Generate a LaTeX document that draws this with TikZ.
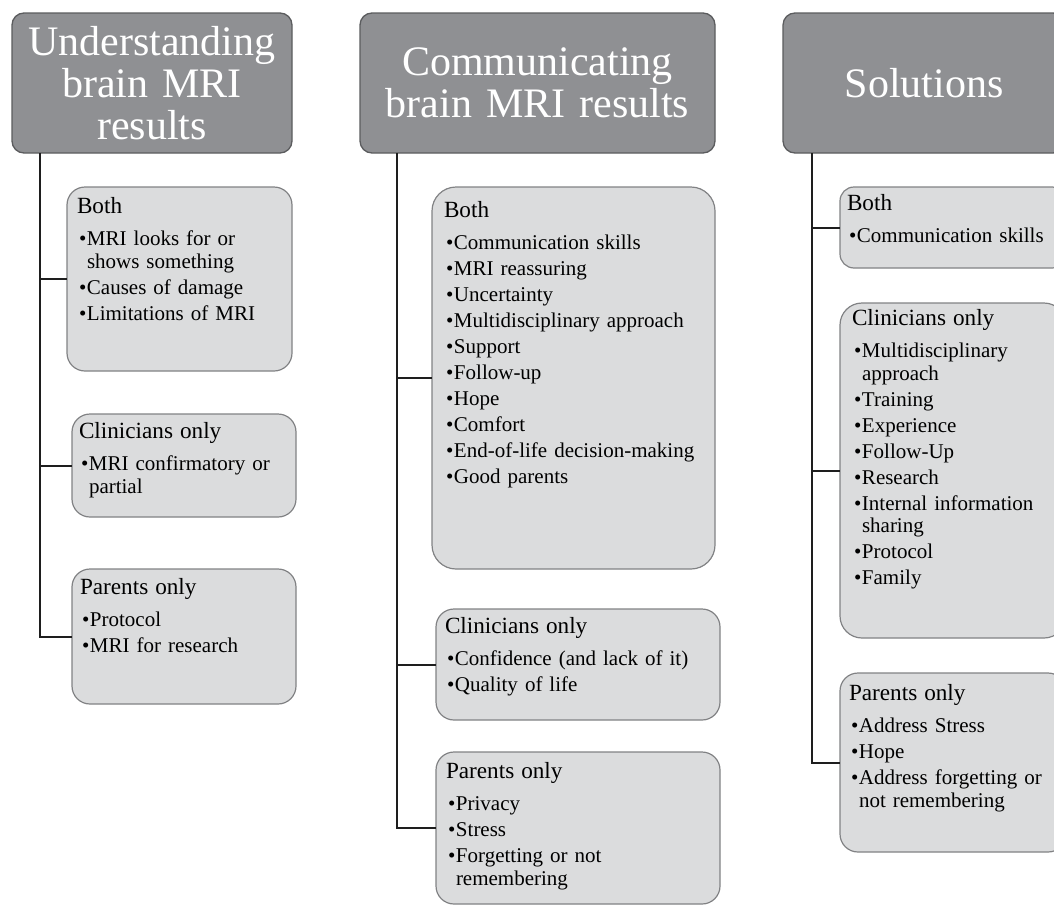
\documentclass[tikz,border=0pt]{standalone}
\usepackage{fontspec}
\setmainfont{Liberation Serif}
\usetikzlibrary{calc}
\definecolor{hdrfill}{HTML}{8F9093}
\definecolor{hdrline}{HTML}{5B5C5E}
\definecolor{boxfill}{HTML}{DBDCDD}
\definecolor{boxline}{HTML}{818284}
\definecolor{conn}{HTML}{1E1E1E}
\tikzset{
  hdr/.style={draw=hdrline, fill=hdrfill, line width=1.3pt, rounded corners=12pt,
    anchor=north west, inner sep=0pt, outer sep=0pt, text=white,
    font=\fontsize{42}{42}\selectfont, align=center},
  cat/.style={draw=boxline, fill=boxfill, line width=1.2pt, rounded corners=18pt,
    anchor=north west, inner sep=0pt, outer sep=0pt},
  boxtext/.style={anchor=base west, inner sep=0pt, outer sep=0pt, text width=#1,
    align=left, font=\fontsize{21}{22.5}\selectfont, text=black},
  link/.style={draw=conn, line width=2pt},
}
\newcommand\boxtitle[1]{{\fontsize{23.2}{22.5}\selectfont #1\par}\vspace{6.5pt}}
\newcommand\itm[1]{\vspace{3.5pt}\hangindent=10pt\hangafter=1\noindent\makebox[10pt][l]{\hspace{2pt}\textbullet}#1\par}
\begin{document}
\begin{tikzpicture}[x=1pt,y=-1pt]
\useasboundingbox (0,0) rectangle (1054,905);
\clip (0,0) rectangle (1054,905);
% headers
\node[hdr, minimum width=280pt, minimum height=140pt, text width=270pt] (h1) at (12,13) {Understanding\\brain MRI\\results};
\node[hdr, minimum width=355pt, minimum height=140pt, text width=345pt] (h2) at (360,13) {Communicating\\brain MRI results};
\node[hdr, minimum width=282pt, minimum height=140pt, text width=272pt] (h3) at (783,13) {Solutions};
% trunk start points
\coordinate (t1) at (40,153);
\coordinate (t2) at (397,153);
\coordinate (t3) at (812,153);
% column 1 boxes
\node[cat, minimum width=225pt, minimum height=184pt] (c1b) at (67,187) {};
\node[cat, minimum width=224pt, minimum height=103pt] (c1c) at (72,414) {};
\node[cat, minimum width=224pt, minimum height=135pt] (c1p) at (72,569) {};
% column 2 boxes
\node[cat, minimum width=283pt, minimum height=382pt, rounded corners=24pt] (c2b) at (432,187) {};
\node[cat, minimum width=284pt, minimum height=111pt] (c2c) at (436,609) {};
\node[cat, minimum width=284pt, minimum height=152pt] (c2p) at (436,752) {};
% column 3 boxes
\node[cat, minimum width=226pt, minimum height=81pt, rounded corners=14pt] (c3b) at (840,187) {};
\node[cat, minimum width=226pt, minimum height=335pt, rounded corners=22pt] (c3c) at (840,303) {};
\node[cat, minimum width=226pt, minimum height=179pt] (c3p) at (840,673) {};
% connectors
\draw[link] (t1) |- (c1p.west);
\draw[link] (c1b.west -| t1) -- (c1b.west);
\draw[link] (c1c.west -| t1) -- (c1c.west);
\draw[link] (t2) |- (c2p.west);
\draw[link] (c2b.west -| t2) -- (c2b.west);
\draw[link] (c2c.west -| t2) -- (c2c.west);
\draw[link] (t3) |- (c3p.west);
\draw[link] (c3b.west -| t3) -- (c3b.west);
\draw[link] (c3c.west -| t3) -- (c3c.west);
% texts column 1
\node[boxtext=210pt] (c1bt) at ($(c1b.north west)+(10,26)$) {\boxtitle{Both}%
\itm{MRI looks for or\hfil\break shows something}%
\itm{Causes of damage}%
\itm{Limitations of MRI}};
\node[boxtext=210pt] (c1ct) at ($(c1c.north west)+(7,24)$) {\boxtitle{Clinicians only}%
\itm{MRI confirmatory or\hfil\break partial}};
\node[boxtext=210pt] (c1pt) at ($(c1p.north west)+(8,25)$) {\boxtitle{Parents only}%
\itm{Protocol}%
\itm{MRI for research}};
% texts column 2
\node[boxtext=270pt] (c2bt) at ($(c2b.north west)+(12,30)$) {\boxtitle{Both}%
\itm{Communication skills}%
\itm{MRI reassuring}%
\itm{Uncertainty}%
\itm{Multidisciplinary approach}%
\itm{Support}%
\itm{Follow-up}%
\itm{Hope}%
\itm{Comfort}%
\itm{End-of-life decision-making}%
\itm{Good parents}};
\node[boxtext=270pt] (c2ct) at ($(c2c.north west)+(9,24)$) {\boxtitle{Clinicians only}%
\itm{Confidence (and lack of it)}%
\itm{Quality of life}};
\node[boxtext=270pt] (c2pt) at ($(c2p.north west)+(10,26)$) {\boxtitle{Parents only}%
\itm{Privacy}%
\itm{Stress}%
\itm{Forgetting or not\hfil\break remembering}};
% texts column 3
\node[boxtext=215pt] (c3bt) at ($(c3b.north west)+(7,23)$) {\boxtitle{Both}%
\itm{Communication skills}};
\node[boxtext=215pt] (c3ct) at ($(c3c.north west)+(12,22)$) {\boxtitle{Clinicians only}%
\itm{Multidisciplinary\hfil\break approach}%
\itm{Training}%
\itm{Experience}%
\itm{Follow-Up}%
\itm{Research}%
\itm{Internal information\hfil\break sharing}%
\itm{Protocol}%
\itm{Family}};
\node[boxtext=215pt] (c3pt) at ($(c3p.north west)+(9,27)$) {\boxtitle{Parents only}%
\itm{Address Stress}%
\itm{Hope}%
\itm{Address forgetting or\hfil\break not remembering}};
\end{tikzpicture}
\end{document}
